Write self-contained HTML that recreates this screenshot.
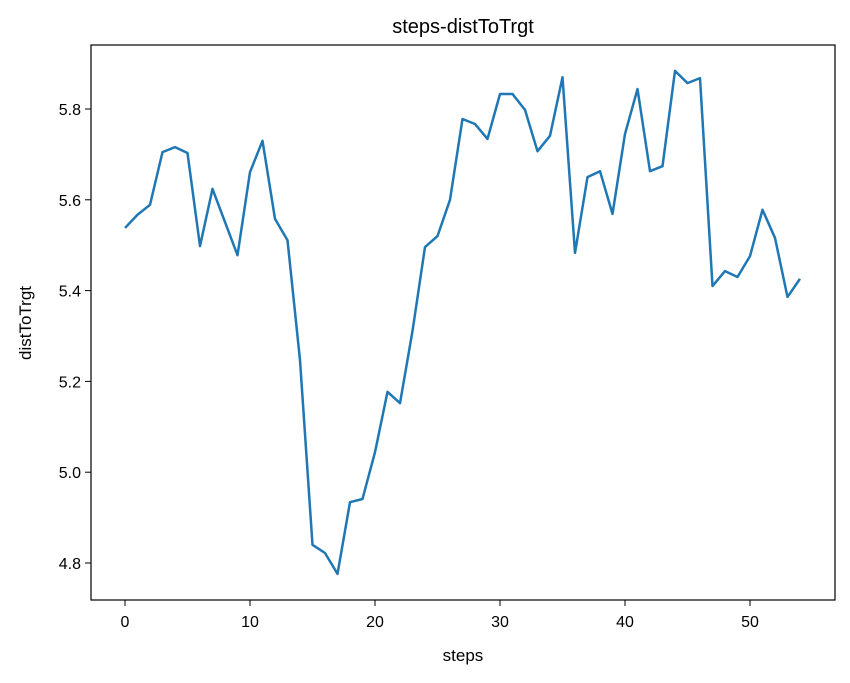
<!DOCTYPE html>
<html><head><meta charset="utf-8"><style>
body{margin:0;background:#fff;}
svg text{font-family:"Liberation Sans","DejaVu Sans",sans-serif;fill:#000;}
</style></head><body>
<svg id="chart" width="850" height="678">
<rect width="850" height="678" fill="#fff"/>
<text x="463" y="33" font-size="20" text-anchor="middle">steps-distToTrgt</text>
<text x="463" y="661" font-size="17" text-anchor="middle">steps</text>
<text transform="translate(31,323) rotate(-90)" font-size="17" text-anchor="middle">distToTrgt</text>
<g id="ticks"></g>
<polyline id="series" fill="none" stroke="#1f77b4" stroke-width="2.5" stroke-linejoin="round"/>
<rect x="91" y="45" width="744" height="555" fill="none" stroke="#000" stroke-width="1.2"/>
</svg>
<script>
const values=[5.538,5.567,5.589,5.705,5.716,5.703,5.498,5.624,5.551,5.478,5.661,5.730,5.558,5.511,5.247,4.840,4.822,4.776,4.934,4.941,5.044,5.177,5.152,5.311,5.496,5.520,5.600,5.778,5.767,5.734,5.833,5.833,5.798,5.707,5.741,5.870,5.483,5.650,5.663,5.569,5.745,5.844,5.663,5.674,5.884,5.857,5.868,5.410,5.443,5.430,5.476,5.578,5.516,5.386,5.426];
const xTicks=[0,10,20,30,40,50];
const yTicks=[4.8,5.0,5.2,5.4,5.6,5.8];
const xs=i=>125+12.5*i;
const ys=v=>109+(5.8-v)*454;
const NS='http://www.w3.org/2000/svg';
const line=document.getElementById('series');
line.setAttribute('points',values.map((v,i)=>xs(i)+','+ys(v)).join(' '));
const g=document.getElementById('ticks');
xTicks.forEach(t=>{
 const l=document.createElementNS(NS,'line');
 
 
 l.setAttribute('x1',xs(t));l.setAttribute('x2',xs(t));l.setAttribute('y1',600);l.setAttribute('y2',606);l.setAttribute('stroke','#000');
 g.appendChild(l);
 const tx=document.createElementNS(NS,'text');
 
 
 tx.setAttribute('x',xs(t));tx.setAttribute('y',627);tx.setAttribute('font-size','16');tx.setAttribute('text-anchor','middle');
 tx.textContent=t;g.appendChild(tx);
});
yTicks.forEach(t=>{
 const l=document.createElementNS(NS,'line');
 
 
 l.setAttribute('x1',85);l.setAttribute('x2',91);l.setAttribute('y1',ys(t));l.setAttribute('y2',ys(t));l.setAttribute('stroke','#000');
 g.appendChild(l);
 const tx=document.createElementNS(NS,'text');
 
 
 tx.setAttribute('x',81);tx.setAttribute('y',ys(t)+6);tx.setAttribute('font-size','16');tx.setAttribute('text-anchor','end');
 tx.textContent=t.toFixed(1);g.appendChild(tx);
});
</script>
</body></html>
